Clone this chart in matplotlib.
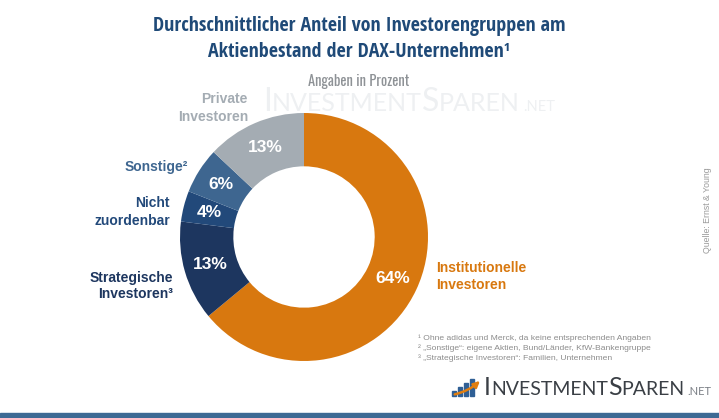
import matplotlib
matplotlib.use("Agg")
import matplotlib.pyplot as plt
from matplotlib.patches import Rectangle, FancyArrowPatch
from matplotlib import font_manager
from matplotlib.font_manager import FontProperties

W, H = 719, 418

categories = [["Institutionelle", "Investoren"], ["Strategische", "Investoren³"],
              ["Nicht", "zuordenbar"], ["Sonstige²"], ["Private", "Investoren"]]
values = [64, 13, 4, 6, 13]
colors = ["#D8780F", "#1D365F", "#22497A", "#3E6690", "#A4ACB3"]
label_colors = ["#D8780F", "#1D365F", "#22497A", "#3E6690", "#A4ACB3"]

title_lines = ["Durchschnittlicher Anteil von Investorengruppen am",
               "Aktienbestand der DAX-Unternehmen¹"]
subtitle = "Angaben in Prozent"
footnotes = ["¹ Ohne adidas und Merck, da keine entsprechenden Angaben",
             "² „Sonstige“: eigene Aktien, Bund/Länder, KfW-Bankengruppe",
             "³ „Strategische Investoren“: Familien, Unternehmen"]
source = "Quelle: Ernst & Young"

# pick the narrowest available condensed font
prio = ["oswald", "opensans_condensed", "opensanscondensed", "open sans condensed",
        "robotocondensed", "roboto condensed", "narrow", "condensed"]
def wt(f):
    w = f.weight
    if isinstance(w, int):
        return w
    return 700 if "bold" in str(w) else 400
def pick(bold):
    fonts = font_manager.fontManager.ttflist
    for key in prio:
        for f in fonts:
            n = (f.name + " " + f.fname).lower()
            if key not in n or f.style != "normal" or "italic" in n or "oblique" in n:
                continue
            w = wt(f)
            if (bold and w >= 600 and w <= 800) or (not bold and 350 <= w <= 500):
                return FontProperties(fname=f.fname)
    return None
title_fp = pick(True) or FontProperties(family="Roboto", weight="bold")
sub_fp = pick(False) or FontProperties(family="Roboto")

def px(x, y):
    return x / W, 1 - y / H

fig = plt.figure(figsize=(W / 100, H / 100), dpi=100)
fig.patch.set_facecolor("white")
renderer = fig.canvas.get_renderer()

# donut
cx, cy, r = 304, 237, 124
ax = fig.add_axes([(cx - r) / W, (H - cy - r) / H, 2 * r / W, 2 * r / H])
wedges, texts, autotexts = ax.pie(values, colors=colors, startangle=90, counterclock=False,
                                  radius=1, wedgeprops=dict(width=0.43, edgecolor="none"),
                                  autopct=lambda p: f"{p:.0f}%", pctdistance=0.79,
                                  textprops=dict(color="white", fontsize=12.5, fontweight="bold",
                                                 family="Liberation Sans"))
ax.set_xlim(-1, 1)
ax.set_ylim(-1, 1)
ax.set_aspect("equal")
ax.axis("off")

# title, sized to the reference width
def fit(text_obj, target_w, start, lo, hi):
    text_obj.set_fontsize(start)
    w = text_obj.get_window_extent(renderer).width
    s = max(lo, min(hi, start * target_w / w))
    text_obj.set_fontsize(s)
    return s

ta = fig.text(*px(359, 31), title_lines[0], ha="center", va="baseline", fontproperties=title_fp,
              color="#1F4A78")
s = fit(ta, 412, 17.5, 12.5, 18)
tb = fig.text(*px(359, 57), title_lines[1], ha="center", va="baseline", fontproperties=title_fp,
              color="#1F4A78")
tb.set_fontsize(s)

st = fig.text(*px(359, 86), subtitle, ha="center", va="baseline", fontproperties=sub_fp,
              color="#8E9296")
fit(st, 101, 11, 9, 13)

def smallcaps(x, y, pieces, color, big, small, family="Lato", zorder=3):
    xf = x
    for txt, is_big in pieces:
        t = fig.text(xf / W, 1 - y / H, txt, ha="left", va="baseline",
                     fontsize=big if is_big else small, family=family, color=color,
                     zorder=zorder)
        xf += t.get_window_extent(renderer).width
    return xf

wm = [("I", True), ("NVESTMENT", False), ("S", True), ("PAREN", False)]
xe = smallcaps(263, 111, wm, "#EEF0F2", 23, 18, zorder=0)
fig.text(xe / W + 3 / W, 1 - 111 / H, ".NET", ha="left", va="baseline", fontsize=10.5,
         family="Lato", color="#EEF0F2", zorder=0)

# outer labels (x, baselines, alignment)
lab_pos = [(436, [272, 289], "left"), (173, [282, 298], "right"), (170, [207, 225], "right"),
           (188, [171.5], "right"), (248, [103, 121], "right")]
for (x, ys, ha), lines, c in zip(lab_pos, categories, label_colors):
    for y, line in zip(ys, lines):
        fig.text(*px(x, y), line, ha=ha, va="baseline", fontsize=10, fontweight="bold",
                 family="Liberation Sans", color=c)

# footnotes
for i, t in enumerate(footnotes):
    fig.text(*px(418, 338 + i * 10), t, ha="left", va="center", fontsize=6.1,
             family="Liberation Sans", color="#8C8C8C")

# source
fig.text(*px(708, 210), source, ha="center", va="center", rotation=90, fontsize=6.3,
         family="Liberation Sans", color="#9A9A9A")

# logo icon
for (x0, h) in [(452, 5), (458, 9), (464, 13), (470, 17)]:
    fig.patches.append(Rectangle((x0 / W, 1 - 396 / H), 4.5 / W, h / H,
                                 transform=fig.transFigure, color="#2F5F95", zorder=2))
arr = FancyArrowPatch(px(452, 395), px(482, 379), transform=fig.transFigure,
                      arrowstyle="-|>", mutation_scale=9, color="#E07E10", lw=1.8,
                      connectionstyle="arc3,rad=0.15", zorder=3)
fig.patches.append(arr)
xe = smallcaps(484, 395, wm, "#3A3F45", 18, 14)
fig.text(xe / W + 3 / W, 1 - 395 / H, ".NET", ha="left", va="baseline", fontsize=8,
         family="Lato", color="#7A7F85")

# bottom bar
fig.patches.append(Rectangle((0, 0), 1, 5 / H, transform=fig.transFigure, color="#3D6A94"))

fig.savefig("out.png", dpi=100, facecolor="white")
